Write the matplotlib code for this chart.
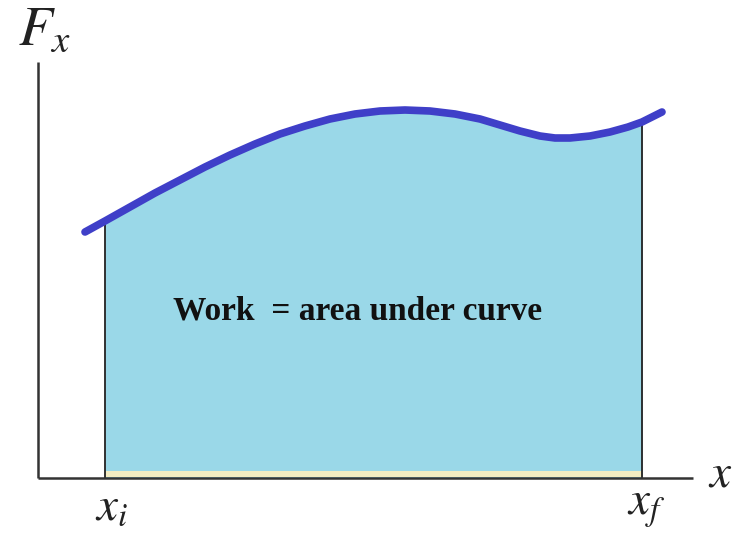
import matplotlib
matplotlib.use("Agg")
import matplotlib.pyplot as plt
import numpy as np

# Curve F_x(x) (pixel-like coordinates, y downward)
curve_x = [85, 105, 130, 155, 180, 205, 230, 255, 280, 305, 330, 355, 380, 405, 430,
           455, 480, 500, 520, 540, 555, 570, 590, 610, 628, 642, 662]
curve_y = [232, 221, 207, 193, 180, 167, 155, 144, 134, 126, 119, 114, 111, 110, 111,
           114, 119, 125, 131, 136, 138, 138, 136, 132, 127, 122, 112]
x_i, x_f = 105, 642
baseline = 478
work_label = "Work  = area under curve"

fig = plt.figure(figsize=(7.39, 5.38), dpi=100)
ax = fig.add_axes([0, 0, 1, 1])
ax.set_xlim(0, 739)
ax.set_ylim(538, 0)
ax.axis("off")

cx = np.array(curve_x, float)
cy = np.array(curve_y, float)
mask = (cx >= x_i) & (cx <= x_f)
ax.fill_between(cx[mask], cy[mask], baseline, color="#9AD8E8", lw=0, zorder=1)
# pale yellow strip along the bottom
ax.fill_between([x_i, x_f], [471, 471], [baseline - 1, baseline - 1], color="#F3ECC2", lw=0, zorder=2)

# vertical bounds
ax.plot([x_i, x_i], [np.interp(x_i, cx, cy), baseline], color="#222222", lw=1.3, zorder=3)
ax.plot([x_f, x_f], [np.interp(x_f, cx, cy), baseline], color="#222222", lw=1.3, zorder=3)

# axes
ax.plot([38, 38], [62, baseline], color="#333333", lw=1.8, zorder=4, solid_capstyle="butt")
ax.plot([38, 693], [baseline, baseline], color="#333333", lw=1.8, zorder=4, solid_capstyle="butt")

# curve
ax.plot(cx, cy, color="#3F3FC8", lw=5.5, solid_capstyle="round", solid_joinstyle="round", zorder=5)

plt.rcParams["mathtext.fontset"] = "stix"
tc = "#222222"
ax.text(18, 30, r"$F_x$", fontsize=40, color=tc, ha="left", va="center")
ax.text(95, 507, r"$x_i$", fontsize=34, color=tc, ha="left", va="center")
ax.text(627, 507, r"$x_f$", fontsize=34, color=tc, ha="left", va="center")
ax.text(708, 474, r"$x$", fontsize=34, color=tc, ha="left", va="center")

ax.text(358, 311, work_label, fontsize=24, fontweight="bold", family="Liberation Serif",
        color="#111111", ha="center", va="center", zorder=6)

fig.savefig("out.png", dpi=100)
